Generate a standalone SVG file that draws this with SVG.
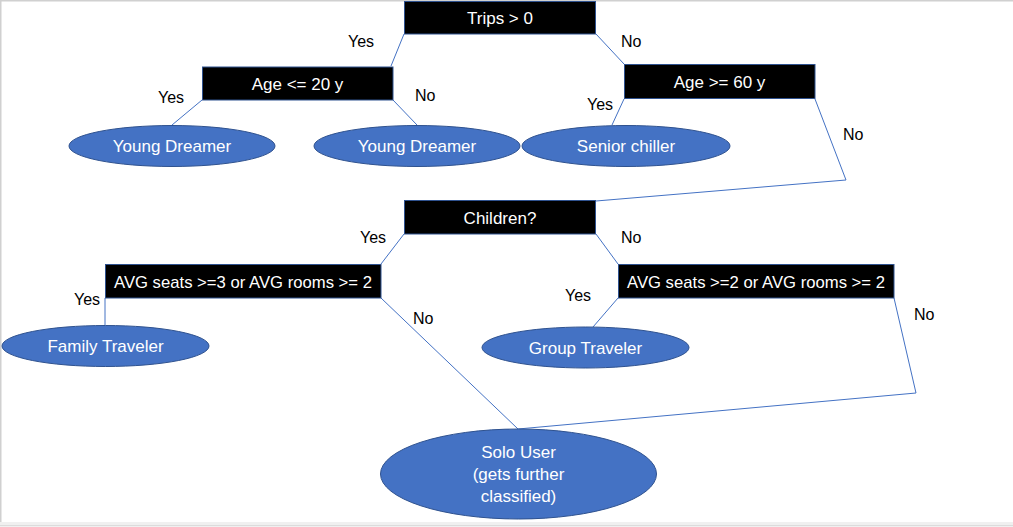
<svg xmlns="http://www.w3.org/2000/svg" width="1013" height="527" viewBox="0 0 1013 527">
<style>
.box{fill:#000;stroke:#2F528F;stroke-width:1}
.ell{fill:#4472C4;stroke:#2F528F;stroke-width:1}
.wt{fill:#fff;font-family:"Liberation Sans",Arial,sans-serif;font-size:17px;text-anchor:middle}
.lbl{fill:#000;font-family:"Liberation Sans",Arial,sans-serif;font-size:16px}
.con line,.con polyline{stroke:#4472C4;stroke-width:1;fill:none}
</style>
<rect x="0" y="0" width="1013" height="527" fill="#fff"/>
<rect x="0" y="0" width="1013" height="1.5" fill="#d0d0d0"/>
<rect x="0" y="0" width="1.5" height="527" fill="#d0d0d0"/>
<rect x="0" y="522" width="1013" height="5" fill="#f0f0f0"/>
<rect x="0" y="525" width="1013" height="1" fill="#dcdcdc"/>
<g class="con" id="connectors">
<line x1="404" y1="34" x2="391" y2="66"/>
<line x1="596" y1="34" x2="624" y2="64"/>
<line x1="202" y1="100" x2="172" y2="125"/>
<line x1="393" y1="100" x2="417" y2="125"/>
<line x1="624" y1="99" x2="612" y2="125"/>
<polyline points="815,99 846,180 596,201"/>
<line x1="404" y1="234" x2="381" y2="264"/>
<line x1="596" y1="234" x2="618" y2="264"/>
<line x1="105" y1="298" x2="105" y2="325"/>
<line x1="381" y1="298" x2="518" y2="429"/>
<line x1="618" y1="298" x2="593" y2="327"/>
<polyline points="894,298 916,393 518,429"/>
</g>
<g id="labels">
<text class="lbl" x="348" y="47">Yes</text>
<text class="lbl" x="621" y="47">No</text>
<text class="lbl" x="158" y="103">Yes</text>
<text class="lbl" x="415" y="101">No</text>
<text class="lbl" x="587" y="110">Yes</text>
<text class="lbl" x="843" y="140">No</text>
<text class="lbl" x="360" y="243">Yes</text>
<text class="lbl" x="621" y="243">No</text>
<text class="lbl" x="74" y="305">Yes</text>
<text class="lbl" x="413" y="324">No</text>
<text class="lbl" x="565" y="301">Yes</text>
<text class="lbl" x="914" y="320">No</text>
</g>
<g id="trips">
<rect class="box" x="404.5" y="1.5" width="191" height="32.5"/>
<text class="wt" x="500" y="24">Trips &gt; 0</text>
</g>
<g id="age20">
<rect class="box" x="202.5" y="67" width="190.5" height="33"/>
<text class="wt" x="297.5" y="89.5">Age &lt;= 20 y</text>
</g>
<g id="age60">
<rect class="box" x="624.5" y="64.5" width="190.5" height="34"/>
<text class="wt" x="719.5" y="87.5">Age &gt;= 60 y</text>
</g>
<g id="young1">
<ellipse class="ell" cx="172" cy="146" rx="103" ry="20.5"/>
<text class="wt" x="172" y="152">Young Dreamer</text>
</g>
<g id="young2">
<ellipse class="ell" cx="417" cy="146" rx="103" ry="20.5"/>
<text class="wt" x="417" y="152">Young Dreamer</text>
</g>
<g id="senior">
<ellipse class="ell" cx="626" cy="146" rx="104" ry="20.5"/>
<text class="wt" x="626" y="152">Senior chiller</text>
</g>
<g id="children">
<rect class="box" x="404.5" y="200.5" width="191" height="33.5"/>
<text class="wt" x="500" y="223.5">Children?</text>
</g>
<g id="avg1">
<rect class="box" x="105.5" y="264.5" width="275.5" height="33.5"/>
<text class="wt" x="243" y="287.5" textLength="258" lengthAdjust="spacingAndGlyphs">AVG seats &gt;=3 or AVG rooms &gt;= 2</text>
</g>
<g id="avg2">
<rect class="box" x="618.5" y="264.5" width="275.5" height="33.5"/>
<text class="wt" x="756" y="287.5" textLength="258" lengthAdjust="spacingAndGlyphs">AVG seats &gt;=2 or AVG rooms &gt;= 2</text>
</g>
<g id="family">
<ellipse class="ell" cx="105.5" cy="346" rx="103.5" ry="20.5"/>
<text class="wt" x="105.5" y="352">Family Traveler</text>
</g>
<g id="group">
<ellipse class="ell" cx="585.5" cy="347.5" rx="103.5" ry="20.5"/>
<text class="wt" x="585.5" y="353.5">Group Traveler</text>
</g>
<g id="solo">
<ellipse class="ell" cx="518.5" cy="474" rx="138" ry="45"/>
<text class="wt" x="518.5" y="458">Solo User</text>
<text class="wt" x="518.5" y="480">(gets further</text>
<text class="wt" x="518.5" y="502">classified)</text>
</g>
</svg>
